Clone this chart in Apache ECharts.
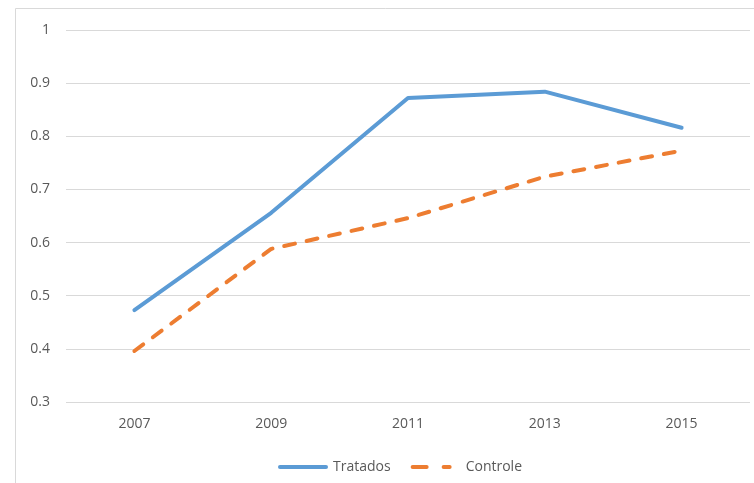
<!DOCTYPE html>
<html>
<head>
<meta charset="utf-8">
<script src="https://cdn.jsdelivr.net/npm/echarts@6/dist/echarts.min.js"></script>
<style>html,body{margin:0;padding:0;background:#fff}#c{width:754px;height:483px}</style>
</head>
<body>
<div id="c"></div>
<script>
const years = ['2007', '2009', '2011', '2013', '2015'];
const tratados = [0.473, 0.656, 0.872, 0.884, 0.816];
const controle = [0.396, 0.588, 0.646, 0.724, 0.773];
const yTicks = [0.3, 0.4, 0.5, 0.6, 0.7, 0.8, 0.9, 1];

const chart = echarts.init(document.getElementById('c'));
const font = 'Open Sans';
chart.setOption({
  animation: false,
  graphic: [{
    type: 'rect', shape: {x: 15.5, y: 8.5, width: 760, height: 500},
    style: {fill: 'none', stroke: '#d9d9d9', lineWidth: 1}, silent: true
  }],
  grid: {left: 66, right: 4, top: 30, bottom: 81},
  legend: {
    top: 455, left: 273, itemWidth: 50, itemHeight: 4, itemGap: 20, itemTextGap: 5,
    textStyle: {color: '#595959', fontFamily: font, fontSize: 14},
    data: [
      {name: 'Tratados', icon: 'path://M2,0 H48 A2,2 0 0 1 48,4 H2 A2,2 0 0 1 2,0 Z'},
      {name: 'Controle', icon: 'path://M2,0 H16 A2,2 0 0 1 16,4 H2 A2,2 0 0 1 2,0 Z M33,0 H39 A2,2 0 0 1 39,4 H33 A2,2 0 0 1 33,0 Z M49.95,3.95 H50 V4 H49.95 Z'}
    ]
  },
  xAxis: {
    type: 'category', data: years, boundaryGap: true,
    axisLine: {show: false}, axisTick: {show: false},
    axisLabel: {color: '#595959', fontFamily: font, fontSize: 14, margin: 15}
  },
  yAxis: {
    type: 'value', min: yTicks[0], max: yTicks[yTicks.length - 1], interval: 0.1,
    axisLine: {show: false}, axisTick: {show: false},
    splitLine: {lineStyle: {color: '#d9d9d9', width: 1}},
    axisLabel: {color: '#595959', fontFamily: font, fontSize: 14, margin: 16,
      formatter: v => String(Math.round(v * 10) / 10)}
  },
  series: [
    {name: 'Tratados', type: 'line', data: tratados, symbol: 'none',
     itemStyle: {color: '#5b9bd5'},
     lineStyle: {color: '#5b9bd5', width: 4, cap: 'round', join: 'round'}},
    {name: 'Controle', type: 'line', data: controle, symbol: 'none',
     itemStyle: {color: '#ed7d31'},
     lineStyle: {color: '#ed7d31', width: 4, type: [11, 12], cap: 'round', join: 'round'}}
  ]
});
</script>
</body>
</html>
